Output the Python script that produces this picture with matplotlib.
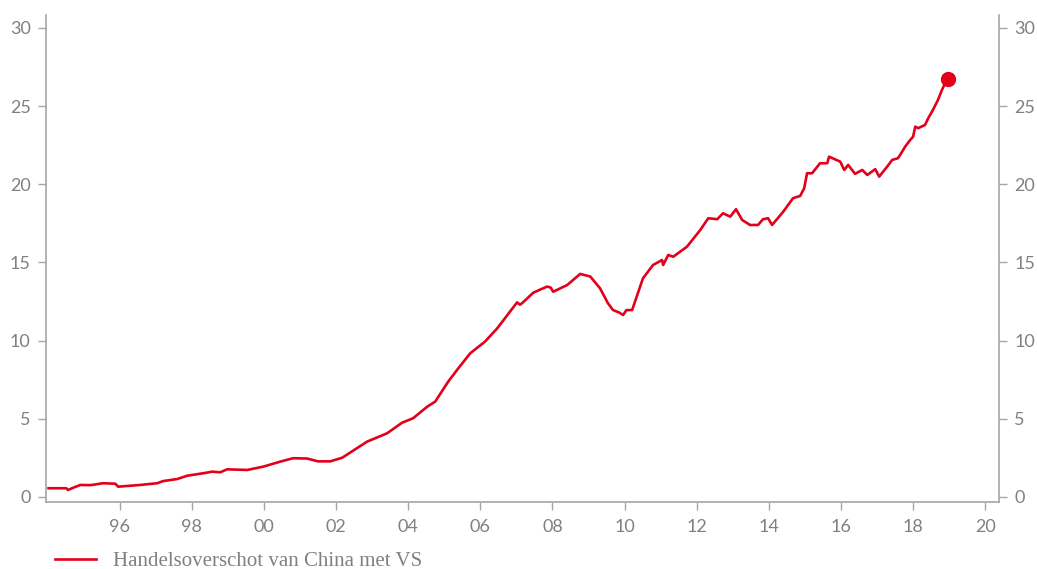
import matplotlib
matplotlib.use("Agg")
from matplotlib import pyplot

# Handelsoverschot van China met de VS (jaar, waarde)
years = [1994.03, 1994.52, 1994.57, 1994.70, 1994.91, 1995.20, 1995.54, 1995.88,
         1995.96, 1996.57, 1997.04, 1997.21, 1997.60, 1997.87, 1998.32, 1998.57,
         1998.79, 1998.98, 1999.54, 1999.98, 2000.45, 2000.81, 2001.20, 2001.50,
         2001.84, 2002.17, 2002.86, 2003.42, 2003.83, 2004.14, 2004.53, 2004.75,
         2005.11, 2005.39, 2005.72, 2006.13, 2006.47, 2007.02, 2007.10, 2007.16,
         2007.47, 2007.85, 2007.95, 2008.02, 2008.41, 2008.77, 2009.05, 2009.32,
         2009.54, 2009.68, 2009.85, 2009.96, 2010.05, 2010.21, 2010.51, 2010.79,
         2011.04, 2011.07, 2011.21, 2011.35, 2011.73, 2012.10, 2012.32, 2012.57,
         2012.73, 2012.93, 2013.09, 2013.26, 2013.48, 2013.70, 2013.84, 2013.98,
         2014.09, 2014.40, 2014.67, 2014.87, 2014.98, 2015.06, 2015.20, 2015.42,
         2015.62, 2015.67, 2015.98, 2016.09, 2016.20, 2016.39, 2016.59, 2016.73,
         2016.95, 2017.06, 2017.28, 2017.42, 2017.58, 2017.64, 2017.78, 2017.92,
         2018.00, 2018.06, 2018.14, 2018.33, 2018.42, 2018.55, 2018.69, 2018.80,
         2018.89, 2018.97]
values = [0.56, 0.56, 0.45, 0.58, 0.77, 0.76, 0.88, 0.85,
          0.66, 0.77, 0.88, 1.02, 1.15, 1.36, 1.52, 1.62,
          1.58, 1.77, 1.73, 1.94, 2.26, 2.48, 2.46, 2.28,
          2.28, 2.51, 3.54, 4.08, 4.75, 5.04, 5.78, 6.10,
          7.38, 8.23, 9.19, 9.94, 10.79, 12.45, 12.30, 12.40,
          13.07, 13.46, 13.40, 13.13, 13.56, 14.27, 14.10, 13.35,
          12.39, 11.96, 11.80, 11.64, 11.95, 11.96, 13.99, 14.84,
          15.16, 14.84, 15.48, 15.37, 16.01, 17.08, 17.83, 17.77,
          18.15, 17.93, 18.41, 17.72, 17.40, 17.40, 17.77, 17.83,
          17.40, 18.25, 19.11, 19.26, 19.75, 20.71, 20.71, 21.35,
          21.35, 21.77, 21.45, 20.92, 21.24, 20.67, 20.92, 20.60,
          20.97, 20.49, 21.13, 21.56, 21.67, 21.88, 22.41, 22.84,
          23.05, 23.69, 23.59, 23.80, 24.23, 24.76, 25.40, 26.04,
          26.47, 26.72]

tick_years = list(range(1996, 2021, 2))
tick_labels = ['{:02d}'.format(y % 100) for y in tick_years]
y_ticks = [0, 5, 10, 15, 20, 25, 30]
legend_label = 'Handelsoverschot van China met VS'

red = '#e2001a'
grey_axis = '#a6a6a6'
grey_text = '#808080'

fig = pyplot.figure(figsize=(10.37, 5.69), dpi=100)
ax = fig.add_axes([0.0444, 0.1172, 0.9189, 0.8564])

line, = ax.plot(years, values, color=red, linewidth=1.9, solid_joinstyle='round')
ax.plot(years[-1:], values[-1:], 'o', color=red, markersize=10)

ax.set_xlim(1993.96, 2020.38)
ax.set_ylim(-0.34, 30.83)
ax.set_xticks(tick_years)
ax.set_xticklabels(tick_labels)
ax.set_yticks(y_ticks)

for side in ['left', 'right', 'bottom']:
    ax.spines[side].set_color(grey_axis)
    ax.spines[side].set_linewidth(1.2)
ax.spines['top'].set_visible(False)

ax.tick_params(axis='both', colors=grey_axis, length=6, width=1.0,
               labelcolor=grey_text, labelsize=13)
ax.tick_params(axis='y', left=True, right=True, labelleft=True, labelright=True, pad=5)
ax.tick_params(axis='x', pad=6)
for lbl in ax.get_xticklabels() + ax.get_yticklabels():
    lbl.set_family('Lato')

fig.legend([line], [legend_label], loc='center left', bbox_to_anchor=(0.039, 0.014),
           frameon=False, handlelength=1.95, handletextpad=0.85, borderpad=0.2,
           prop={'family': 'Liberation Serif', 'size': 15},
           labelcolor=grey_text)

fig.savefig('out.png', dpi=100)
